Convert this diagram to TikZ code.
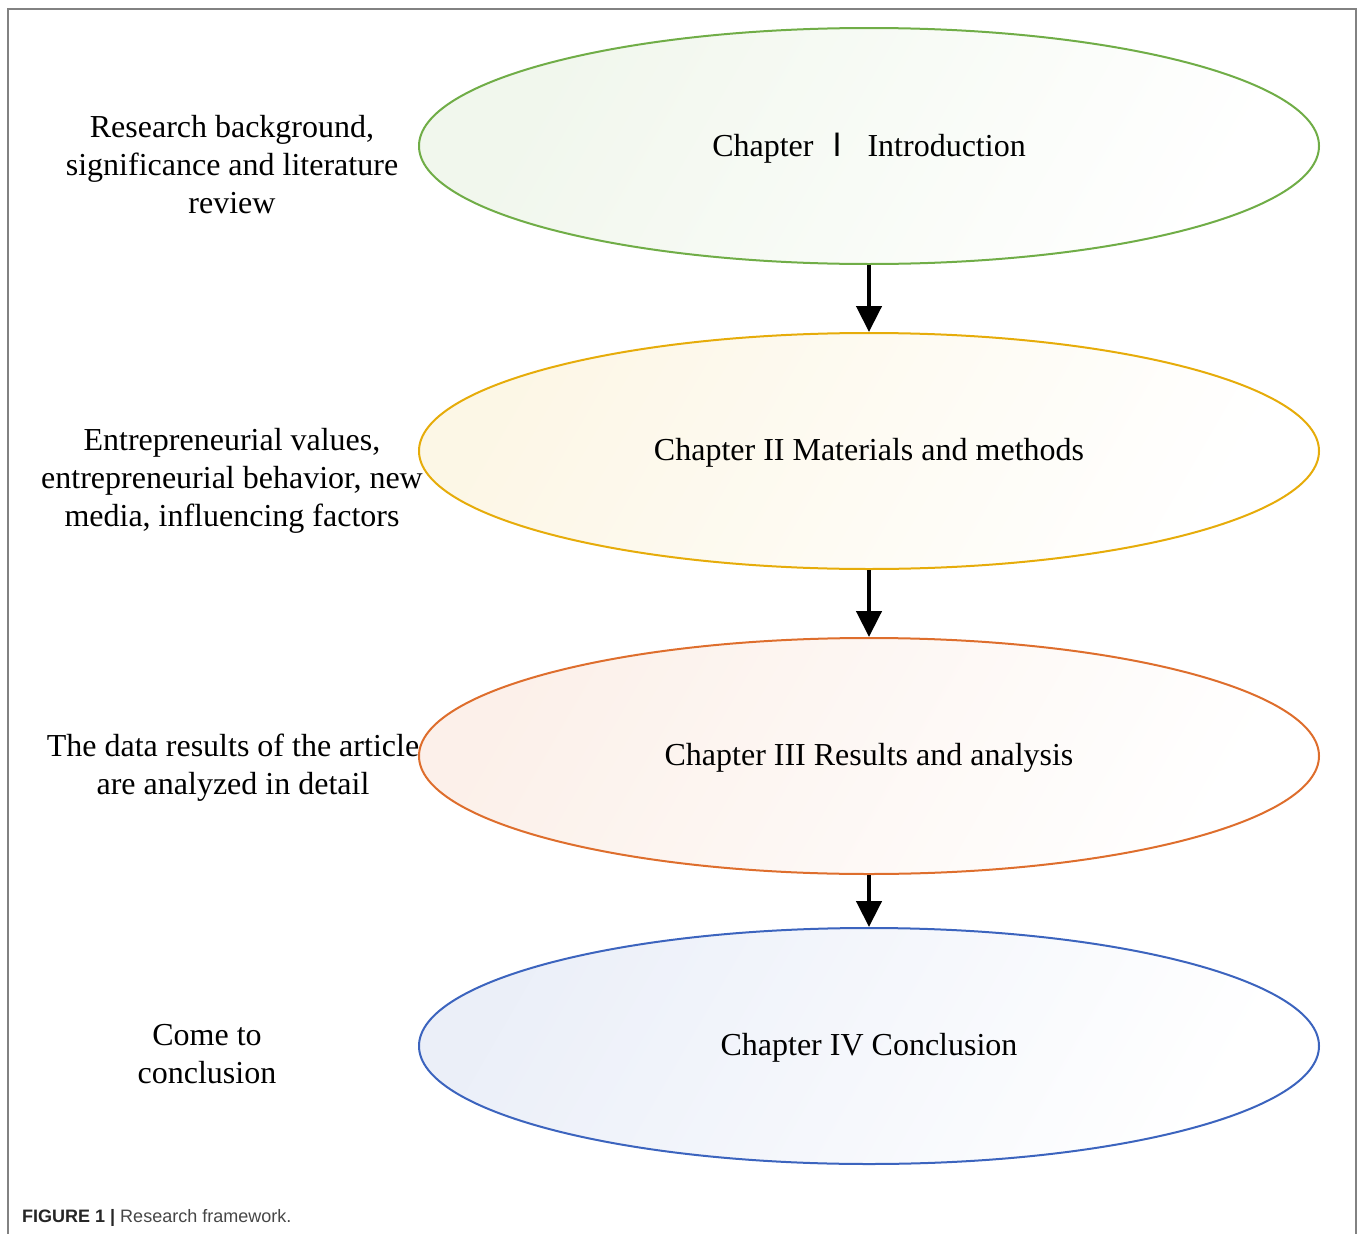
\documentclass[tikz,border=0pt]{standalone}
\usepackage{fontspec}
\setmainfont{Liberation Serif}
\newfontfamily\capfont{Liberation Sans}
\newfontfamily\cjk{Noto Sans CJK SC}
\usetikzlibrary{shapes.geometric,arrows.meta}
\definecolor{cgreen}{RGB}{112,173,71}
\definecolor{cyellow}{RGB}{230,172,10}
\definecolor{corange}{RGB}{222,110,45}
\definecolor{cblue}{RGB}{60,100,190}
\definecolor{framegray}{RGB}{130,130,130}
\definecolor{capgray}{RGB}{70,70,70}
\tikzset{
  chapter/.style={ellipse, draw=#1, line width=2pt, minimum width=900pt,
    minimum height=236pt, inner sep=0pt, left color=#1!10, right color=white,
    shading angle=60},
  label text/.style={font=\fontsize{32}{38}\selectfont, inner sep=0pt},
  sidetext/.style={align=center, font=\fontsize{32}{38}\selectfont},
  flow/.style={line width=4.5pt, -{Triangle[width=25pt,length=26pt]}},
}
\begin{document}
\begin{tikzpicture}[x=1pt,y=-1pt]
\useasboundingbox (0,0) rectangle (1358,1234);
% outer frame
\draw[framegray, line width=2pt] (8,1240) -- (8,9) -- (1356,9) -- (1356,1240);
% chapter ellipses
\node[chapter=cgreen]  (e1) at (869,146) {};
\node[chapter=cyellow] (e2) at (869,451) {};
\node[chapter=corange] (e3) at (869,756) {};
\node[chapter=cblue]   (e4) at (869,1046) {};
% chapter titles
\node[label text] (c1) at (869,148) {Chapter~{\cjk Ⅰ}\hspace{14pt}Introduction};
\node[label text] (c2) at (869,453) {Chapter II Materials and methods};
\node[label text] (c3) at (869,758) {Chapter III Results and analysis};
\node[label text] (c4) at (869,1048) {Chapter IV Conclusion};
% flow arrows
\draw[flow] (e1.south) -- (e2.north);
\draw[flow] (e2.south) -- (e3.north);
\draw[flow] (e3.south) -- (e4.north);
% side descriptions
\node[sidetext] (t1) at (232,165) {Research background,\\significance and literature\\review};
\node[sidetext] (t2) at (232,481) {Entrepreneurial values,\\entrepreneurial behavior, new\\media, influencing factors};
\node[sidetext] (t3) at (233,768) {The data results of the article\\are analyzed in detail};
\node[sidetext] (t4) at (207,1054) {Come to\\conclusion};
% caption
\node[anchor=base west, inner sep=0pt, font=\capfont\fontsize{18}{22}\selectfont] (cap) at (22,1222)
  {\textbf{\color{black!85}FIGURE 1 |} {\color{capgray}Research framework.}};
\end{tikzpicture}
\end{document}
